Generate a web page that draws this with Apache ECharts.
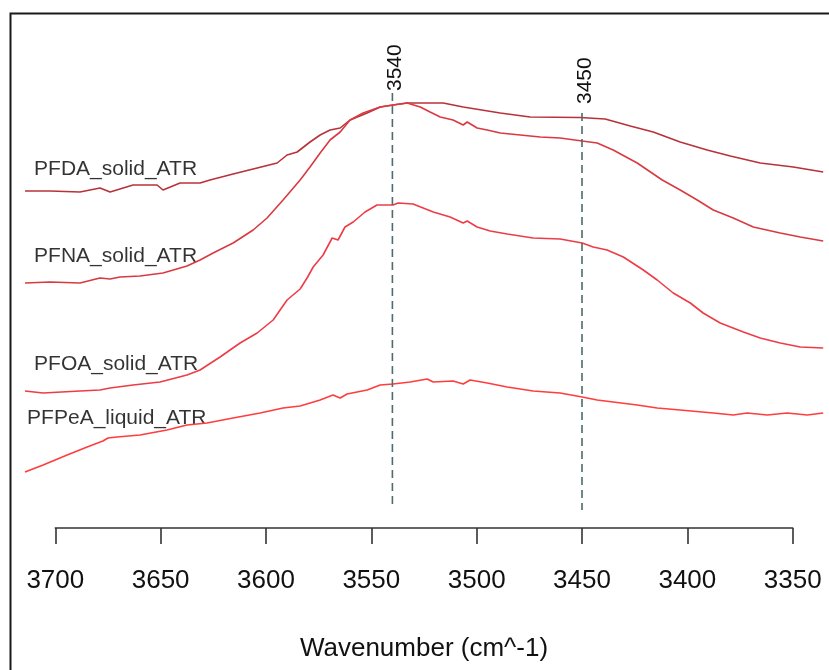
<!DOCTYPE html>
<html>
<head>
<meta charset="utf-8">
<script src="https://cdn.jsdelivr.net/npm/echarts@6/dist/echarts.min.js"></script>
<style>
html,body{margin:0;padding:0;background:#fff;}
#c{width:829px;height:670px;}
</style>
</head>
<body>
<div id="c"></div>
<script>
// ---- data (wavenumber in cm^-1, offset absorbance in a.u.) ----
var seriesNames = ["PFDA_solid_ATR", "PFNA_solid_ATR", "PFOA_solid_ATR", "PFPeA_liquid_ATR"];

var pfdaWn  = [3714.4,3702.5,3688.3,3678.8,3674,3663.1,3651.7,3648.9,3640.8,3631.3,3626.6,3615.6,3606.1,3594.7,3590,3585.2,3579.1,3574.3,3569.6,3564.8,3560.1,3552,3545.8,3539.7,3533,3528.3,3515.9,3506.4,3488.8,3474.6,3450.9,3439,3427.1,3416.2,3403.4,3390.6,3379.6,3365.4,3349.7,3335.5];
var pfdaAbs = [0.337,0.337,0.336,0.340,0.336,0.343,0.343,0.338,0.345,0.345,0.348,0.354,0.359,0.365,0.373,0.376,0.386,0.393,0.398,0.400,0.408,0.415,0.421,0.423,0.425,0.425,0.425,0.421,0.415,0.411,0.4105,0.409,0.402,0.396,0.386,0.378,0.372,0.365,0.361,0.356];

var pfnaWn  = [3714.4,3702.5,3688.3,3678.8,3674,3669.3,3659.8,3648.9,3637.5,3631.3,3625.1,3615.6,3606.1,3599.5,3591.9,3583.8,3579.1,3574.3,3569.6,3564.8,3560.1,3553.9,3545.8,3539.7,3533,3526.8,3522.1,3517.3,3511.2,3506.4,3504.5,3499.8,3495,3488.8,3479.3,3469.8,3460.4,3449.9,3442.8,3435.2,3423.8,3411.9,3403.4,3395.3,3387.7,3378.2,3368.7,3355.9,3346.4,3335.5];
var pfnaAbs = [0.245,0.246,0.245,0.250,0.249,0.251,0.252,0.255,0.262,0.268,0.275,0.285,0.298,0.310,0.328,0.348,0.361,0.375,0.388,0.396,0.408,0.415,0.421,0.423,0.425,0.421,0.416,0.411,0.408,0.403,0.406,0.400,0.398,0.395,0.393,0.391,0.390,0.387,0.385,0.378,0.365,0.348,0.338,0.328,0.318,0.310,0.301,0.295,0.291,0.287];

var pfoaWn  = [3714.4,3705.8,3688.3,3678.8,3674,3663.1,3650.3,3637.5,3631.3,3621.8,3612.3,3604.2,3596.6,3590,3583.8,3580.5,3577.6,3572.9,3568.6,3565.8,3562.5,3558.6,3553,3547.3,3539.7,3537.3,3530.2,3520.6,3512.6,3506.4,3504.5,3499.8,3493.6,3485.5,3473.2,3460.4,3449.9,3444.7,3438.1,3430.4,3420.9,3414.3,3406.7,3398.6,3392.5,3384.4,3373.4,3365.4,3355.9,3346.4,3335.5];
var pfoaAbs = [0.137,0.135,0.137,0.138,0.140,0.143,0.146,0.153,0.158,0.171,0.185,0.195,0.208,0.228,0.239,0.250,0.261,0.273,0.290,0.288,0.301,0.306,0.316,0.323,0.323,0.325,0.324,0.316,0.311,0.305,0.307,0.301,0.297,0.294,0.290,0.289,0.285,0.281,0.278,0.271,0.258,0.248,0.235,0.225,0.215,0.205,0.196,0.190,0.185,0.181,0.180];

var pfpeaWn  = [3714.4,3705.8,3694.4,3684.9,3677.4,3675,3670.7,3659.8,3647,3637.5,3628,3615.6,3602.8,3591.9,3583.8,3574.3,3568.2,3564.8,3561.5,3552,3545.8,3539.7,3531.6,3523.5,3520.6,3511.2,3506.4,3503.1,3495,3485.5,3473.2,3460.4,3449.9,3442.8,3435.2,3423.8,3414.3,3403.4,3387.7,3378.2,3371.6,3362,3352.6,3343.1,3335.5];
var pfpeaAbs = [0.056,0.063,0.073,0.081,0.087,0.090,0.091,0.093,0.098,0.103,0.105,0.110,0.115,0.120,0.122,0.128,0.133,0.130,0.134,0.138,0.143,0.144,0.146,0.149,0.146,0.147,0.144,0.148,0.145,0.141,0.137,0.135,0.131,0.128,0.126,0.123,0.120,0.118,0.115,0.113,0.115,0.113,0.115,0.113,0.115];

// series label anchors (left-middle of text)
var labelWn  = [3710.1, 3710.1, 3710.1, 3713.4];
var labelAbs = [0.359, 0.272, 0.1635, 0.110];

// reference peak lines
var peakWn     = [3540, 3450];
var peakTop    = [0.435, 0.415];
var peakBottom = [0.023, 0.018];
var peakLabelAbs = [0.437, 0.424];

// plotted wavenumber window and x-axis ticks
var plotWnLeft = 3714.4, plotWnRight = 3335.6;
var xMin = 3350, xMax = 3700, xStep = 50;
var axisTitle = "Wavenumber (cm^-1)";

var colors = ["#b8323a", "#d93a42", "#ee3c47", "#ff3d3d"];

function pairs(a, b) { return a.map(function (v, i) { return [v, b[i]]; }); }

var series = [];
var wnArr = [pfdaWn, pfnaWn, pfoaWn, pfpeaWn];
var abArr = [pfdaAbs, pfnaAbs, pfoaAbs, pfpeaAbs];
for (var i = 0; i < 4; i++) {
  series.push({
    name: seriesNames[i], type: 'line', data: pairs(wnArr[i], abArr[i]),
    xAxisIndex: 0, yAxisIndex: 0,
    showSymbol: false, symbol: 'none', clip: false, silent: true,
    lineStyle: { color: colors[i], width: 1.6 }
  });
}
for (var j = 0; j < peakWn.length; j++) {
  series.push({
    type: 'line', data: [[peakWn[j], peakTop[j]], [peakWn[j], peakBottom[j]]],
    xAxisIndex: 0, yAxisIndex: 0,
    symbol: 'none', clip: false, silent: true,
    lineStyle: { color: '#4f6b6b', width: 1.6, type: [8, 5] }
  });
}
series.push({
  type: 'scatter', symbolSize: 0, clip: false, silent: true,
  xAxisIndex: 0, yAxisIndex: 0,
  data: labelWn.map(function (w, i) { return { value: [w, labelAbs[i]], name: seriesNames[i] }; }),
  label: {
    show: true, position: 'right', distance: 0,
    formatter: function (p) { return p.name; },
    color: '#000000', fontFamily: 'Liberation Sans', fontSize: 21
  }
});

var chart = echarts.init(document.getElementById('c'), null, { renderer: 'canvas' });
chart.setOption({
  backgroundColor: '#ffffff',
  animation: false,
  grid: [
    { left: 25, right: 6, top: 13, bottom: 142 },        // data window
    { left: 55.3, right: 36.3, top: 13, bottom: 142 }    // visible axis 3700..3350
  ],
  xAxis: [
    { gridIndex: 0, type: 'value', min: plotWnRight, max: plotWnLeft, inverse: true, show: false },
    {
      gridIndex: 1, type: 'value', min: xMin, max: xMax, interval: xStep, inverse: true,
      splitLine: { show: false },
      axisLine: { show: true, lineStyle: { color: '#333', width: 1.6 } },
      axisTick: { show: true, length: 16, lineStyle: { color: '#333', width: 1.6 } },
      axisLabel: { color: '#111', fontFamily: 'Liberation Sans', fontSize: 26, margin: 40,
                   formatter: function (v) { return String(v); } },
      name: axisTitle, nameLocation: 'middle', nameGap: 108,
      nameTextStyle: { color: '#111', fontFamily: 'Liberation Sans', fontSize: 26 }
    }
  ],
  yAxis: [
    { gridIndex: 0, type: 'value', min: 0, max: 0.515, show: false },
    { gridIndex: 1, type: 'value', min: 0, max: 0.515, show: false }
  ],
  series: series
});

var graphics = [{
  type: 'rect', shape: { x: 10.5, y: 13.5, width: 840, height: 700 },
  style: { fill: null, stroke: '#1a1a1a', lineWidth: 2 }, silent: true
}];
for (var k = 0; k < peakWn.length; k++) {
  var p = chart.convertToPixel({ xAxisIndex: 0, yAxisIndex: 0 }, [peakWn[k], peakLabelAbs[k]]);
  graphics.push({
    type: 'text', x: p[0] + 3, y: p[1], rotation: Math.PI / 2, silent: true,
    style: { text: String(peakWn[k]), fill: '#111', font: '21px "Liberation Sans"', align: 'left', verticalAlign: 'middle' }
  });
}
chart.setOption({ graphic: graphics });
</script>
</body>
</html>
